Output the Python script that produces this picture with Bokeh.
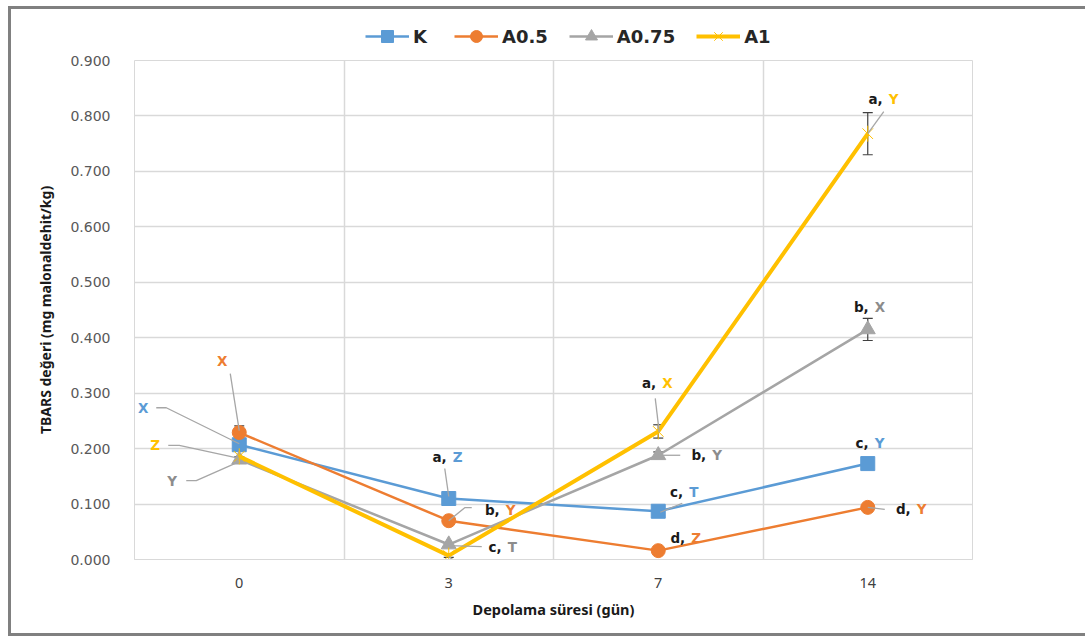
from bokeh.plotting import figure
from bokeh.layouts import column
from bokeh.models import (Range1d, FixedTicker, NumeralTickFormatter, Whisker,
                          ColumnDataSource, TeeHead, Legend, LegendItem)
from bokeh.embed import file_html
from bokeh.resources import INLINE
from bokeh.core.properties import value

# ---------------- data ----------------
days = ["0", "3", "7", "14"]
names = ["K", "A0.5", "A0.75", "A1"]
val_K = [0.207, 0.110, 0.087, 0.173]
val_A05 = [0.229, 0.070, 0.016, 0.094]
val_A075 = [0.180, 0.027, 0.188, 0.415]
val_A1 = [0.186, 0.007, 0.231, 0.768]
err_K = [0.005, 0.004, 0.003, 0.004]
err_A05 = [0.012, 0.004, 0.003, 0.004]
err_A075 = [0.005, 0.003, 0.006, 0.020]
err_A1 = [0.010, 0.003, 0.012, 0.038]
pre_K = ["", "a,", "c,", "c,"]
let_K = ["X", "Z", "T", "Y"]
pre_A05 = ["", "b,", "d,", "d,"]
let_A05 = ["X", "Y", "Z", "Y"]
pre_A075 = ["", "c,", "b,", "b,"]
let_A075 = ["Y", "T", "Y", "X"]
pre_A1 = ["", "d,", "a,", "a,"]
let_A1 = ["Z", "T", "X", "Y"]
y_ticks = [0.0, 0.1, 0.2, 0.3, 0.4, 0.5, 0.6, 0.7, 0.8, 0.9]

values = [val_K, val_A05, val_A075, val_A1]
errors = [err_K, err_A05, err_A075, err_A1]
prefixes = [pre_K, pre_A05, pre_A075, pre_A1]
letters = [let_K, let_A05, let_A075, let_A1]

# ---------------- styling / layout ----------------
colors = ["#5B9BD5", "#ED7D31", "#A5A5A5", "#FFC000"]
letter_colors = ["#5B9BD5", "#ED7D31", "#8C8C8C", "#FFC000"]
widths = [2.5, 2.5, 2.5, 4]
markers = ["square", "circle", "triangle", "x"]
msizes = [14, 14, 15, 15]

# label placement: offsets in screen px (dx right, dy up) from the point
label_off = [
    [(-96, 37), (0, 42), (27, 19), (3, 21)],
    [(-17, 72), (53, 11), (29, 13), (45, -2)],
    [(-67, -21), (55, -2), (50, 0), (3, 22)],
    [(-84, 11), (65, -22), (0, 48), (17, 35)],
]
leader_off = [
    [[(-83, 37), (-73, 37), (0, 1)], [(-4, 30), (0, 2)], [(24, 8), (2, -1)], []],
    [[(-9, 59), (0, 2)], [(23, 13), (16, 13), (0, 0)], [], [(17, -2), (0, 0)]],
    [[(-53, -21), (-43, -21), (0, -2)], [(33, -2), (0, -1)], [(22, 0), (0, 0)], []],
    [[(-71, 11), (-60, 11), (0, -2)], [(35, -22), (28, -22), (0, -1)], [(-3, 33), (1, -1)], [(16, 22), (0, 0)]],
]

W = 1074
LH = 40          # legend strip height
H = 584          # main chart height
ML, MR, MT, MB = 123, 113, 11, 74
FW, FH = W - ML - MR, H - MT - MB
n = len(days)
YMAX = 0.9
px_x = FW / n
px_y = FH / YMAX

p = figure(width=W, height=H, output_backend="svg", toolbar_location=None,
           x_range=Range1d(0, n), y_range=Range1d(0, YMAX),
           min_border_left=ML, min_border_right=MR, min_border_top=MT,
           min_border_bottom=MB)
p.outline_line_color = "#D9D9D9"
p.background_fill_color = "white"
p.border_fill_color = "white"

xs = [i + 0.5 for i in range(n)]

# axes
p.xaxis.ticker = FixedTicker(ticks=xs)
p.xaxis.major_label_overrides = {x: d for x, d in zip(xs, days)}
p.xaxis.axis_line_color = "#D9D9D9"
p.xaxis.major_tick_line_color = None
p.xaxis.minor_tick_line_color = None
p.xaxis.major_label_text_font = "Noto Sans"
p.xaxis.major_label_text_font_size = "14.5px"
p.xaxis.major_label_text_color = "#404040"
p.xaxis.major_label_standoff = 12
p.xaxis.axis_label = "Depolama süresi (gün)"
p.xaxis.axis_label_text_font = "Noto Sans"
p.xaxis.axis_label_text_font_style = "bold"
p.xaxis.axis_label_text_font_size = "14.5px"
p.xaxis.axis_label_text_color = "#1a1a1a"
p.xaxis.axis_label_standoff = 8

p.yaxis.ticker = FixedTicker(ticks=y_ticks)
p.yaxis.formatter = NumeralTickFormatter(format="0.000")
p.yaxis.axis_line_color = None
p.yaxis.major_tick_line_color = None
p.yaxis.minor_tick_line_color = None
p.yaxis.major_label_text_font = "DejaVu Sans"
p.yaxis.major_label_text_font_size = "14px"
p.yaxis.major_label_text_color = "#595959"
p.yaxis.major_label_standoff = 18
p.yaxis.axis_label = "TBARS değeri (mg malonaldehit/kg)"
p.yaxis.axis_label_text_font = "Noto Sans"
p.yaxis.axis_label_text_font_style = "bold"
p.yaxis.axis_label_text_font_size = "14px"
p.yaxis.axis_label_text_color = "#1a1a1a"
p.yaxis.axis_label_standoff = 12

p.xgrid.ticker = FixedTicker(ticks=list(range(1, n)))
p.xgrid.grid_line_color = "#D9D9D9"
p.xgrid.grid_line_width = 1.5
p.ygrid.grid_line_color = "#D9D9D9"
p.ygrid.grid_line_width = 1.5


def draw_series(fig, si, src):
    rs = [fig.line("x", "y", source=src, line_color=colors[si], line_width=widths[si])]
    if markers[si] == "x":
        rs.append(fig.scatter("x", "y", source=src, marker="x", size=msizes[si],
                              line_color=colors[si], line_width=1))
        rs.append(fig.scatter("x", "y", source=src, marker="dash", size=msizes[si] + 1,
                              angle=1.5708, line_color=colors[si], line_width=1))
    else:
        rs.append(fig.scatter("x", "y", source=src, marker=markers[si], size=msizes[si],
                              fill_color=colors[si], line_color=colors[si]))
    return rs


for si in range(len(names)):
    draw_series(p, si, ColumnDataSource(dict(x=xs, y=values[si])))

# error bars
for si in range(len(names)):
    up = [v + e for v, e in zip(values[si], errors[si])]
    lo = [v - e for v, e in zip(values[si], errors[si])]
    esrc = ColumnDataSource(dict(x=xs, up=up, lo=lo))
    w = Whisker(source=esrc, base="x", upper="up", lower="lo", line_color="#404040",
                line_width=1.2,
                upper_head=TeeHead(size=10, line_color="#404040", line_width=1.2),
                lower_head=TeeHead(size=10, line_color="#404040", line_width=1.2))
    p.add_layout(w)

# leader lines
lx, ly = [], []
for si in range(len(names)):
    for di in range(n):
        pts = leader_off[si][di]
        if not pts:
            continue
        lx.append([xs[di] + dx / px_x for dx, dy in pts])
        ly.append([values[si][di] + dy / px_y for dx, dy in pts])
p.multi_line(lx, ly, line_color="#A6A6A6", line_width=1.3)

# labels
for si in range(len(names)):
    px_, py_, pre, xo, yo = [], [], [], [], []
    sx, sy, lt, sxo, syo = [], [], [], [], []
    cx, cy, ct, cxo, cyo = [], [], [], [], []
    for di in range(n):
        dx, dy = label_off[si][di]
        if prefixes[si][di]:
            px_.append(xs[di]); py_.append(values[si][di]); pre.append(prefixes[si][di])
            xo.append(dx - 2); yo.append(-dy)
            sx.append(xs[di]); sy.append(values[si][di]); lt.append(letters[si][di])
            sxo.append(dx + 4); syo.append(-dy)
        else:
            cx.append(xs[di]); cy.append(values[si][di]); ct.append(letters[si][di])
            cxo.append(dx); cyo.append(-dy)
    common = dict(text_font=value("DejaVu Sans"), text_font_style="bold",
                  text_font_size="13.5px", text_baseline="middle")
    if pre:
        p.text(x=px_, y=py_, text=pre, x_offset=xo, y_offset=yo, text_align="right",
               text_color="#1a1a1a", **common)
        p.text(x=sx, y=sy, text=lt, x_offset=sxo, y_offset=syo, text_align="left",
               text_color=letter_colors[si], **common)
    if ct:
        p.text(x=cx, y=cy, text=ct, x_offset=cxo, y_offset=cyo, text_align="center",
               text_color=letter_colors[si], **common)

# ---------------- legend strip (separate figure, same styles) ----------------
lf = figure(width=W, height=LH, output_backend="svg", toolbar_location=None,
            x_range=Range1d(0, 1), y_range=Range1d(0, 1),
            x_axis_type=None, y_axis_type=None,
            min_border_left=0, min_border_right=0, min_border_top=0,
            min_border_bottom=0)
lf.outline_line_color = None
lf.grid.visible = False
lf.background_fill_color = "white"
lf.border_fill_color = "white"
items = []
for si, name in enumerate(names):
    rs = draw_series(lf, si, ColumnDataSource(dict(x=[-5.0], y=[-5.0])))
    items.append(LegendItem(label=name, renderers=rs))
legend = Legend(items=items, orientation="horizontal", location=(231, -2),
                label_text_font="DejaVu Sans", label_text_font_style="bold",
                label_text_font_size="18px", label_text_color="#262626",
                glyph_width=44, glyph_height=30, label_height=30, label_standoff=4,
                spacing=21, padding=0, margin=0, border_line_color=None,
                background_fill_alpha=0)
lf.add_layout(legend, "center")

inner = column(lf, p, spacing=0,
               styles={"border-top": "3px solid #808080",
                       "border-left": "3px solid #808080",
                       "border-bottom": "3px solid #808080"})
root = column(inner, styles={"padding-top": "6px", "padding-left": "8px",
                             "background-color": "white"})

open("out.html", "w").write(file_html(root, INLINE))
